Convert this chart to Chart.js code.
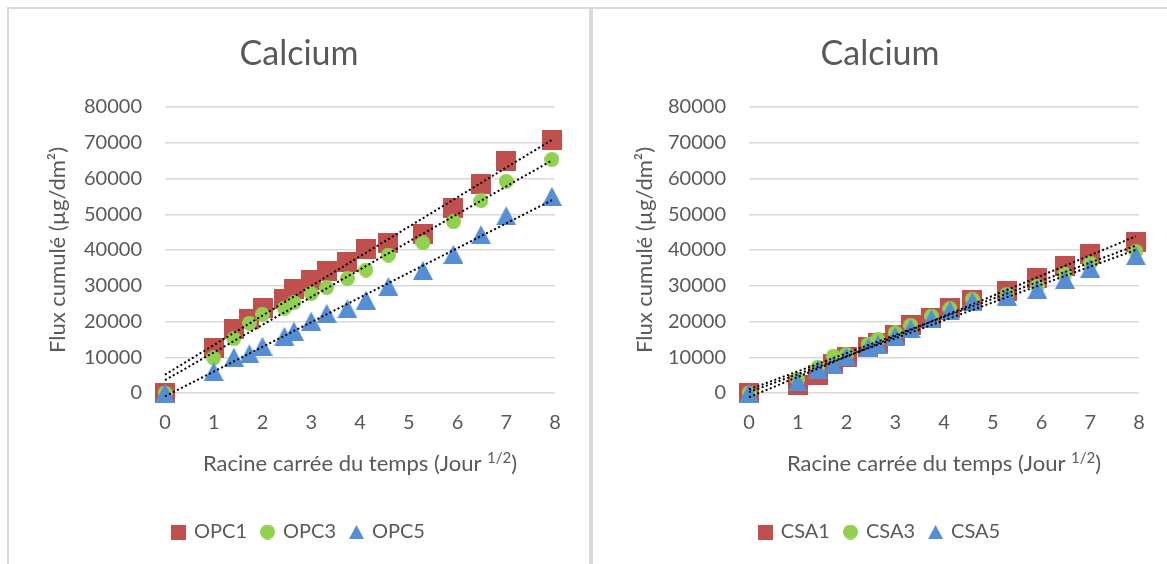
<!DOCTYPE html>
<html lang="fr">
<head>
<meta charset="utf-8">
<title>Calcium</title>
<script src="https://cdn.jsdelivr.net/npm/chart.js@4.4.1/dist/chart.umd.min.js"></script>
<style>
  body { margin: 0; background: #fff; }
  #page { position: relative; width: 1167px; height: 564px; overflow: hidden; background: #fff; }
  .cadre { position: absolute; top: 7px; border-top: 2px solid #d9d9d9; border-left: 2px solid #d9d9d9; }
  #cadreOpc { left: 7px; border-right: 2px solid #d9d9d9; }
  #cadreCsa { left: 591px; }
  canvas { display: block; }
</style>
</head>
<body>
<div id="page">
  <div class="cadre" id="cadreOpc"><canvas id="graphOpc" width="580" height="555"></canvas></div>
  <div class="cadre" id="cadreCsa"><canvas id="graphCsa" width="574" height="555"></canvas></div>
</div>
<script>
// racine carrée du temps (jours 0,1,2,3,4,6,7,9,11,14,17,21,28,35,42,49,63)
const racineTemps = [0, 1, 1.414, 1.732, 2, 2.449, 2.646, 3, 3.317, 3.742, 4.123, 4.583, 5.292, 5.916, 6.481, 7, 7.937];

// flux cumulé en µg/dm²
const opc1 = [0, 12600, 18000, 20800, 23700, 26200, 29100, 31600, 34000, 36700, 40200, 42000, 44500, 51800, 58500, 64800, 70800];
const opc3 = [0, 9800, 15200, 19500, 22000, 23700, 25300, 27800, 29500, 32000, 34400, 38600, 42000, 47900, 53800, 59200, 65300];
const opc5 = [0, 6000, 10000, 11000, 13100, 15900, 17300, 20100, 22300, 23600, 26000, 29800, 34300, 38800, 44300, 49600, 55000];

const csa1 = [0, 2200, 5100, 8000, 10100, 12800, 13900, 16200, 19100, 21100, 23800, 25900, 28500, 32100, 35500, 38800, 42100];
const csa3 = [0, 3800, 7200, 10300, 10800, 13700, 15000, 16800, 18900, 21500, 23600, 26200, 27600, 29900, 33200, 36300, 39600];
const csa5 = [0, 3100, 6600, 7900, 10100, 12700, 13600, 15900, 18000, 20700, 23000, 25600, 27100, 29000, 31800, 34900, 38400];

const nomsOpc = ['OPC1', 'OPC3', 'OPC5'];
const nomsCsa = ['CSA1', 'CSA3', 'CSA5'];

const titre = 'Calcium';
const titreX = ['Racine carrée du temps (Jour ', '1/2', ')'];
const titreY = 'Flux cumulé (µg/dm²)';
const xMin = 0, xMax = 8, xPas = 1;
const yMin = 0, yMax = 80000, yPas = 10000;

const couleurs = ['#C0504D', '#92D050', '#558ED5'];
const formes = ['carre', 'rond', 'triangle'];
const gris = '#595959';
const police = 'Lato, "Open Sans", sans-serif';

Chart.defaults.font.family = police;
Chart.defaults.color = gris;

// petit canevas servant de marqueur (style Excel)
function marqueur(forme, w, h, couleur) {
  const c = document.createElement('canvas');
  c.width = w;
  c.height = h;
  const g = c.getContext('2d');
  g.fillStyle = couleur;
  g.beginPath();
  if (forme === 'carre') {
    g.rect(0, 0, w, h);
  } else if (forme === 'rond') {
    g.arc(w / 2, h / 2, w / 2, 0, Math.PI * 2);
  } else {
    g.moveTo(w / 2, 0);
    g.lineTo(w, h);
    g.lineTo(0, h);
    g.closePath();
  }
  g.fill();
  return c;
}

const tailles = { carre: [20, 20], rond: [15, 15], triangle: [20, 19] };
const taillesLegende = { carre: [15, 15], rond: [15, 15], triangle: [15, 14] };

// courbe de tendance linéaire (moindres carrés)
function tendance(xs, ys) {
  const n = xs.length;
  const mx = xs.reduce((a, b) => a + b, 0) / n;
  const my = ys.reduce((a, b) => a + b, 0) / n;
  let sxy = 0, sxx = 0;
  xs.forEach((x, i) => {
    sxy += (x - mx) * (ys[i] - my);
    sxx += (x - mx) * (x - mx);
  });
  const pente = sxy / sxx;
  const origine = my - pente * mx;
  return [xs[0], xs[n - 1]].map(x => ({ x: x, y: origine + pente * x }));
}

// titre et légende centrés sur toute la largeur du graphique
const centrage = {
  id: 'centrage',
  afterLayout(chart) {
    [chart.titleBlock, chart.legend].forEach(b => {
      if (b) {
        b.left = 0;
        b.right = chart.width;
        b.width = chart.width;
      }
    });
  }
};

// titre de l'axe x avec l'exposant 1/2
const titreAxeX = {
  id: 'titreAxeX',
  afterDraw(chart) {
    const ctx = chart.ctx;
    const sx = chart.scales.x;
    const fNormal = '22px ' + police;
    const fExposant = '15px ' + police;
    ctx.save();
    ctx.fillStyle = gris;
    ctx.textBaseline = 'alphabetic';
    ctx.font = fNormal;
    const w0 = ctx.measureText(titreX[0]).width;
    const w2 = ctx.measureText(titreX[2]).width;
    ctx.font = fExposant;
    const w1 = ctx.measureText(titreX[1]).width;
    let x = (sx.left + sx.right) / 2 - (w0 + w1 + w2) / 2;
    const y = sx.bottom - 36;
    ctx.font = fNormal;
    ctx.fillText(titreX[0], x, y);
    x += w0;
    ctx.font = fExposant;
    ctx.fillText(titreX[1], x, y - 8);
    x += w1;
    ctx.font = fNormal;
    ctx.fillText(titreX[2], x, y);
    ctx.restore();
  }
};

function graphique(id, noms, series, padTitreY, padDroite) {
  const datasets = [];
  series.forEach((ys, i) => {
    const f = formes[i];
    datasets.push({
      label: noms[i],
      data: racineTemps.map((x, j) => ({ x: x, y: ys[j] })),
      pointStyle: marqueur(f, tailles[f][0], tailles[f][1], couleurs[i]),
      iconeLegende: marqueur(f, taillesLegende[f][0], taillesLegende[f][1], couleurs[i]),
      backgroundColor: couleurs[i],
      borderColor: couleurs[i],
      showLine: false,
      clip: false,
      order: 3 - i
    });
  });
  series.forEach((ys, i) => {
    datasets.push({
      label: 'Linéaire (' + noms[i] + ')',
      data: tendance(racineTemps, ys),
      showLine: true,
      pointRadius: 0,
      borderColor: '#000',
      borderWidth: 2,
      borderDash: [2, 2.5],
      fill: false,
      clip: false,
      order: 0
    });
  });

  return new Chart(document.getElementById(id), {
    type: 'scatter',
    data: { datasets: datasets },
    plugins: [centrage, titreAxeX],
    options: {
      responsive: false,
      animation: false,
      events: [],
      layout: { padding: { left: 0, right: padDroite, top: 0, bottom: 12 } },
      plugins: {
        tooltip: { enabled: false },
        title: {
          display: true,
          text: titre,
          color: gris,
          font: { size: 34, weight: 'normal' },
          padding: { top: 25, bottom: 32.2 }
        },
        legend: {
          position: 'bottom',
          labels: {
            usePointStyle: true,
            boxWidth: 11,
            boxHeight: 15,
            padding: 15,
            color: gris,
            font: { size: 20 },
            generateLabels(chart) {
              const items = Chart.defaults.plugins.legend.labels.generateLabels(chart);
              return items.map(it => Object.assign(it, {
                pointStyle: chart.data.datasets[it.datasetIndex].iconeLegende
              }));
            },
            filter: it => it.datasetIndex < 3,
            sort: (a, b) => a.datasetIndex - b.datasetIndex
          }
        }
      },
      scales: {
        x: {
          type: 'linear',
          min: xMin,
          max: xMax,
          ticks: { stepSize: xPas, padding: 18, color: gris, font: { size: 20 } },
          grid: { display: false, drawTicks: false },
          border: { display: false },
          title: { display: false },
          afterFit(scale) {
            scale.height = 114;
          }
        },
        y: {
          min: yMin,
          max: yMax,
          ticks: {
            stepSize: yPas,
            padding: 23,
            color: gris,
            font: { size: 20 },
            callback: v => String(v)
          },
          grid: { color: '#d9d9d9', lineWidth: 1.5, drawTicks: false },
          border: { display: false },
          title: {
            display: true,
            text: titreY,
            color: gris,
            font: { size: 22 },
            padding: { top: padTitreY, bottom: 0 }
          },
          afterFit(scale) {
            scale.width = 156;
          }
        }
      }
    }
  });
}

graphique('graphOpc', nomsOpc, [opc1, opc3, opc5], 35.8, 34);
graphique('graphCsa', nomsCsa, [csa1, csa3, csa5], 38.8, 28);
</script>
</body>
</html>
